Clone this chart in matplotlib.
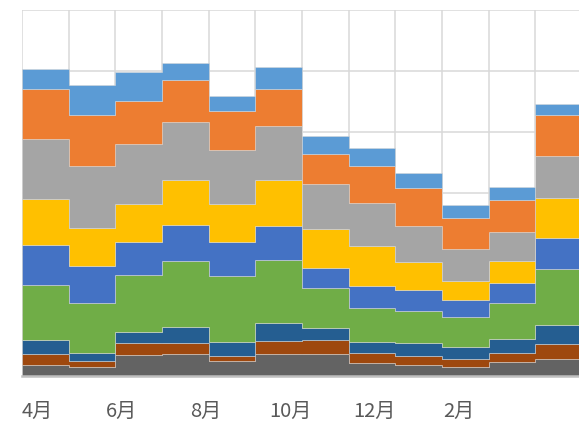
import numpy as np
import matplotlib
matplotlib.use('Agg')
import matplotlib.pyplot as plt

plt.rcParams['font.family'] = ['Noto Sans CJK JP', 'DejaVu Sans']

# 月 (4月〜3月)
months = ['4月', '5月', '6月', '7月', '8月', '9月', '10月', '11月', '12月', '1月', '2月', '3月']
tick_labels = ['4月', '6月', '8月', '10月', '12月', '2月']

# 系列 (下から上へ)
s_darkgray = [1.86, 1.48, 3.50, 3.55, 2.51, 3.66, 3.55, 2.08, 1.80, 1.48, 2.35, 2.84]
s_brown = [1.75, 1.04, 1.86, 1.86, 0.77, 2.13, 2.35, 1.64, 1.48, 1.26, 1.48, 2.35]
s_darkblue = [2.30, 1.20, 1.91, 2.68, 2.35, 2.95, 2.02, 1.91, 2.19, 2.08, 2.30, 3.22]
s_green = [8.96, 8.20, 9.23, 10.77, 10.71, 10.33, 6.45, 5.52, 5.19, 4.86, 5.90, 9.13]
s_blue = [6.56, 6.12, 5.52, 5.90, 5.68, 5.57, 3.39, 3.61, 3.44, 2.79, 3.28, 5.14]
s_yellow = [7.65, 6.17, 6.12, 7.32, 6.12, 7.43, 6.28, 6.56, 4.59, 3.17, 3.50, 6.56]
s_gray = [9.84, 10.22, 9.84, 9.62, 8.91, 8.85, 7.38, 7.10, 5.90, 5.25, 4.75, 6.83]
s_orange = [8.20, 8.42, 7.16, 6.83, 6.34, 6.17, 4.92, 6.01, 6.28, 5.08, 5.30, 6.78]
s_lightblue = [3.17, 4.81, 4.70, 2.73, 2.57, 3.61, 2.95, 2.90, 2.35, 2.08, 2.19, 1.80]

series = [s_darkgray, s_brown, s_darkblue, s_green, s_blue, s_yellow, s_gray, s_orange, s_lightblue]
colors = ['#636363', '#9E480E', '#255E91', '#70AD47', '#4472C4', '#FFC000', '#A5A5A5', '#ED7D31', '#5B9BD5']

fig = plt.figure(figsize=(5.79, 4.29), dpi=100)
W, H = 579, 429
ax = fig.add_axes([22 / W, (H - 376) / H, 560 / W, 366 / H])

n = len(months)
x = np.arange(n + 1)
base = np.zeros(n)
for vals, c in zip(series, colors):
    top = base + np.array(vals)
    lo = np.append(base, base[-1])
    hi = np.append(top, top[-1])
    ax.fill_between(x, lo, hi, step='post', color=c, linewidth=0.6,
                    edgecolor=(0.85, 0.85, 0.85, 0.6), zorder=2)
    base = top

ax.set_xlim(0, n)
ax.set_ylim(0, 60)

# グリッド
for xv in range(n + 1):
    ax.axvline(xv, color='#D9D9D9', linewidth=1.1, zorder=1)
for yv in range(0, 61, 10):
    ax.axhline(yv, color='#D9D9D9', linewidth=1.1, zorder=1)

for sp in ['top', 'right', 'left']:
    ax.spines[sp].set_visible(False)
ax.spines['bottom'].set_color('#BFBFBF')
ax.spines['bottom'].set_linewidth(1.8)
ax.spines['bottom'].set_zorder(3)

ax.set_yticks([])
pos = [0.32 + 1.81 * i for i in range(len(tick_labels))]
ax.set_xticks(pos)
ax.set_xticklabels(tick_labels, fontsize=14.5, color='#595959')
ax.tick_params(axis='x', length=0, pad=18)

fig.savefig('out.png', dpi=100)
